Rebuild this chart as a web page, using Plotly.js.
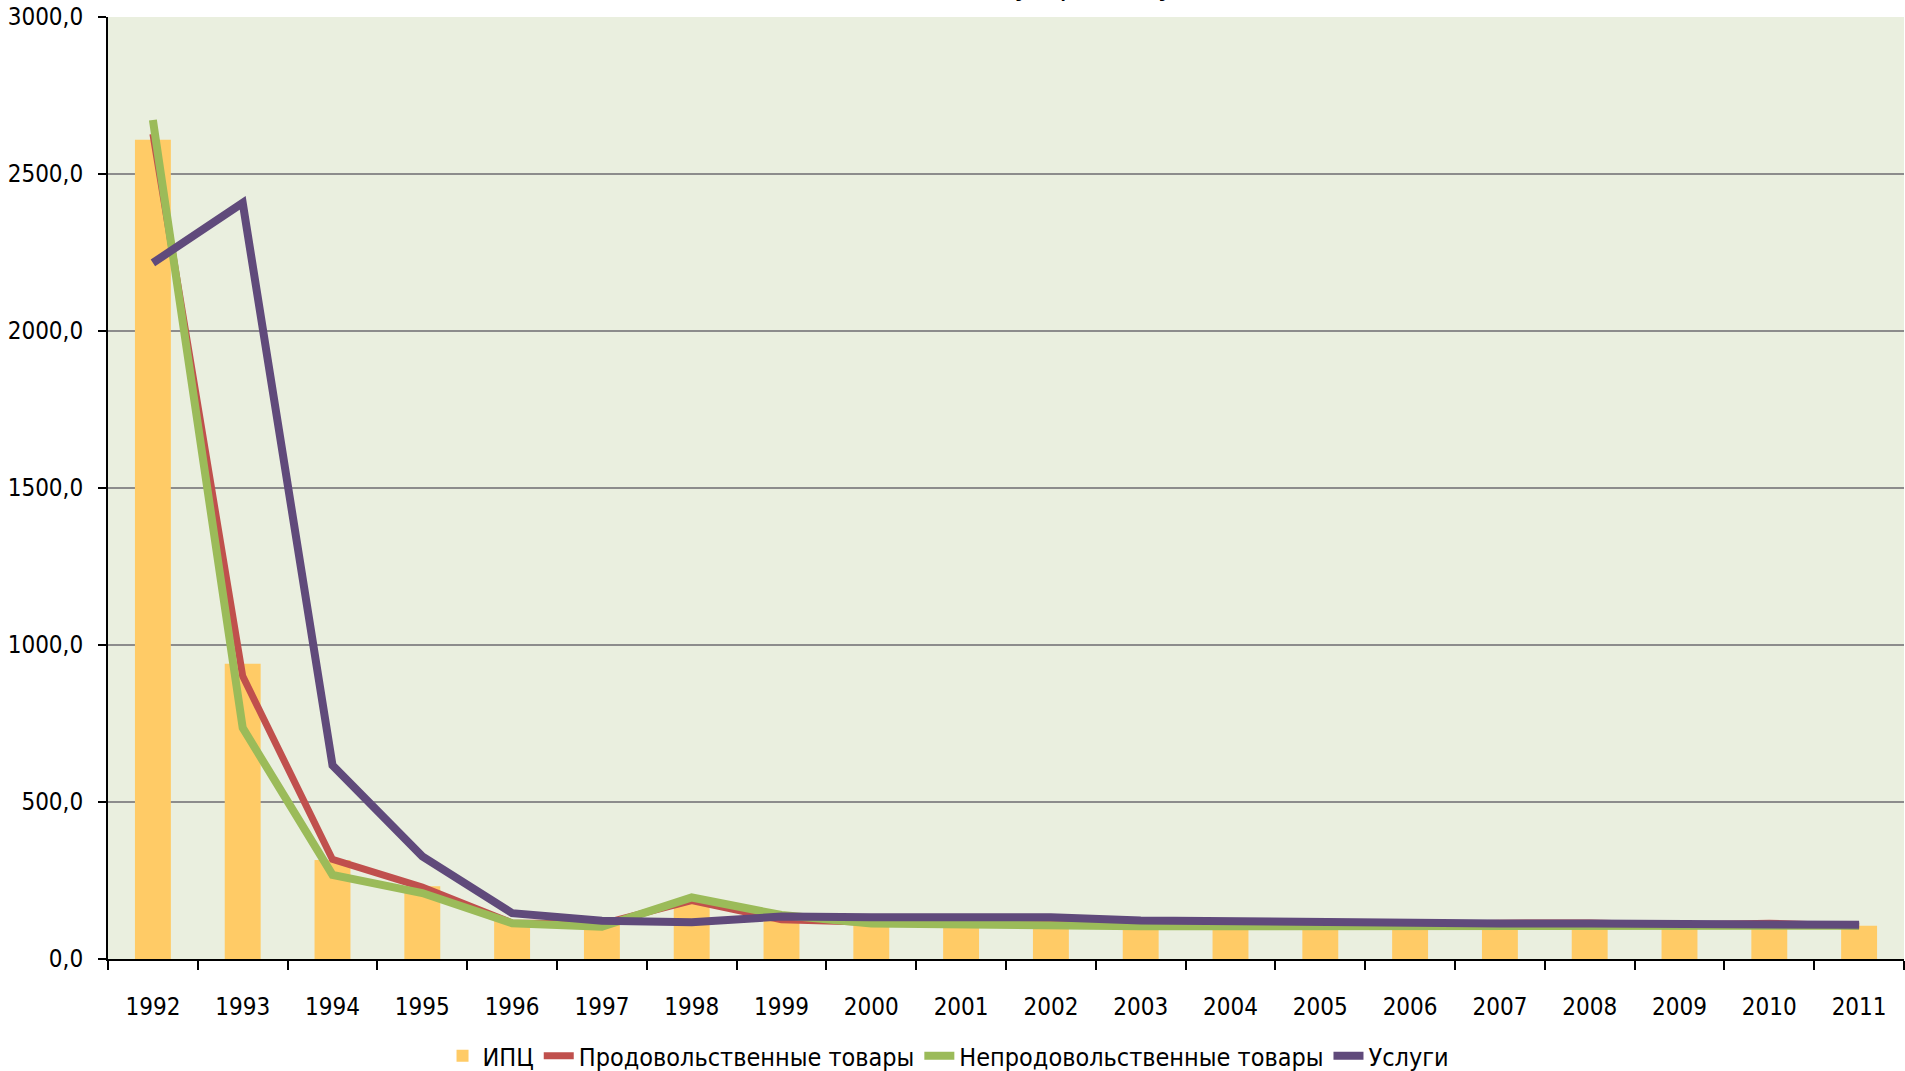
<!DOCTYPE html>
<html>
<head>
<meta charset="utf-8">
<script src="https://cdn.plot.ly/plotly-3.0.1.min.js"></script>
<style>
  html, body { margin: 0; padding: 0; background: #fff; }
  #chart { width: 1905px; height: 1071px; }
</style>
</head>
<body>
<div id="chart"></div>
<script>
// годы
var years = ['1992', '1993', '1994', '1995', '1996', '1997', '1998', '1999', '2000', '2001',
             '2002', '2003', '2004', '2005', '2006', '2007', '2008', '2009', '2010', '2011'];

// ИПЦ (столбцы)
var ipc = [2608.8, 939.9, 315.1, 231.3, 121.8, 111.0, 184.4, 136.5, 120.2, 118.6,
           115.1, 112.0, 111.7, 110.9, 109.0, 111.9, 113.3, 108.8, 108.8, 106.1];

// линии
var food = [2628, 901, 317, 229, 115, 112, 186, 125, 117, 116,
            111, 112, 111, 110, 108, 114, 115, 108, 114, 104];
var nonFood = [2672, 736, 268, 210, 114, 103, 196, 140, 113, 108,
               104, 104, 104, 104, 104, 105, 106, 105, 104, 106];
var services = [2217, 2408, 617, 327, 146, 122, 117, 135, 133, 133,
                133, 123, 119, 119, 113, 113, 113, 113, 108, 109];

var titleLines = ['Индексы потребительских цен', '(на конец года, в % к концу предыдущего года)'];

var fontFam = '"DejaVu Sans Condensed", "Liberation Sans", sans-serif';

var data = [
    { x: years, y: ipc, name: 'ИПЦ', type: 'bar',
      marker: { color: '#FFCB66' } },

    { x: years, y: food, name: 'Продовольственные товары', type: 'scatter', mode: 'lines',
      line: { color: '#C0504D', width: 7 } },

    { x: years, y: nonFood, name: 'Непродовольственные товары', type: 'scatter', mode: 'lines',
      line: { color: '#9BBB59', width: 8 } },

    { x: years, y: services, name: 'Услуги', type: 'scatter', mode: 'lines',
      line: { color: '#604A7B', width: 8 } }
];

var layout = {
    width: 1905,
    height: 1071,
    separators: ', ',
    font: { family: fontFam, size: 24, color: '#000' },
    paper_bgcolor: '#ffffff',
    plot_bgcolor: '#EAEFDF',
    margin: { l: 108, r: 1, t: 17, b: 112 },
    bargap: 0.6,
    showlegend: true,
    legend: {
        orientation: 'h',
        x: 0.468, xanchor: 'center',
        yref: 'container', y: 0.014, yanchor: 'middle',
        font: { family: fontFam, size: 25, color: '#000' },
        bgcolor: 'rgba(0,0,0,0)',
        traceorder: 'normal'
    },
    // заголовок почти весь за верхним краем, видны только хвосты букв
    annotations: [{
        text: titleLines.join('<br>'),
        xref: 'paper', yref: 'paper',
        x: 0.4827, xanchor: 'center',
        y: 1.0136, yanchor: 'bottom',
        showarrow: false,
        font: { family: fontFam, size: 32, color: '#000' }
    }],
    xaxis: {
        type: 'category',
        tickson: 'boundaries',
        ticks: 'outside',
        ticklen: 9,
        tickwidth: 2,
        tickcolor: '#000',
        showline: true,
        linecolor: '#000',
        linewidth: 2,
        showgrid: false,
        ticklabelstandoff: 25,
        tickfont: { family: fontFam, size: 24, color: '#000' }
    },
    yaxis: {
        range: [0, 3000],
        dtick: 500,
        tickformat: '.1f',
        ticks: 'outside',
        ticklen: 8,
        tickwidth: 2,
        tickcolor: '#000',
        showline: true,
        linecolor: '#000',
        linewidth: 2,
        showgrid: true,
        gridcolor: '#8C8C8C',
        gridwidth: 2,
        zeroline: false,
        ticklabelstandoff: 10,
        tickfont: { family: fontFam, size: 24, color: '#000' }
    }
};

Plotly.newPlot('chart', data, layout, { displayModeBar: false });
</script>
</body>
</html>
